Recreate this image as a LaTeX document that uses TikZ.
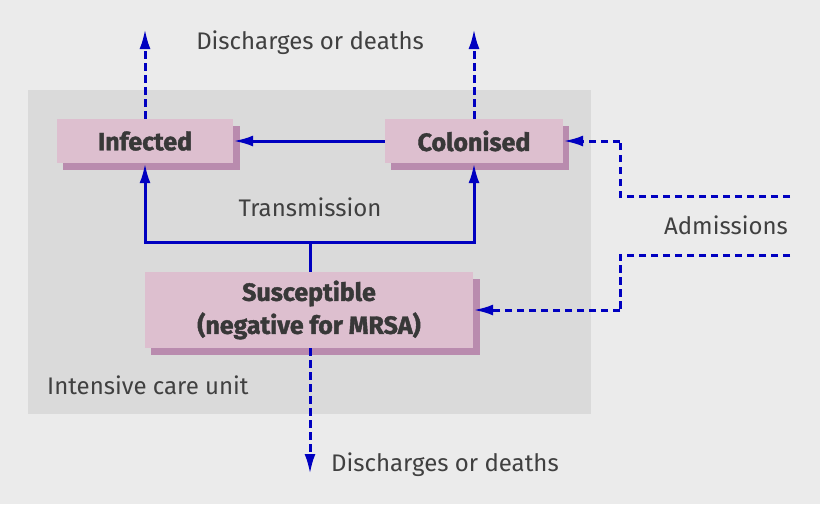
\documentclass[tikz,border=0pt]{standalone}
\usepackage{fontspec}
\setmainfont{Fira Sans}
\newfontfamily\heavyfont{Fira Sans}[BoldFeatures={FakeBold=1.6}]
\usetikzlibrary{arrows.meta}
\definecolor{bgc}{HTML}{EBEBEB}
\definecolor{icuc}{HTML}{DADADA}
\definecolor{boxc}{HTML}{DDBFCF}
\definecolor{shadc}{HTML}{B98BAE}
\definecolor{linec}{HTML}{0000C0}
\definecolor{txtc}{HTML}{383838}
\definecolor{lblc}{HTML}{404040}
\tikzset{
  stbox/.style={rectangle, fill=boxc, text=txtc, font=\fontsize{25}{33}\heavyfont\bfseries, align=center, inner sep=0pt},
  lbl/.style={text=lblc, font=\fontsize{24}{28}\selectfont, inner sep=0pt},
  solidarrow/.style={draw=linec, line width=3pt, -{Latex[length=20pt,width=11pt]}},
  dotarrow/.style={draw=linec, line width=3pt, dash pattern=on 7.5pt off 4.5pt, -{Latex[length=20pt,width=11pt]}},
  dotline/.style={draw=linec, line width=3pt, dash pattern=on 7.5pt off 4.5pt},
}
\begin{document}
\begin{tikzpicture}[x=1pt,y=-1pt]
\fill[bgc] (0,0) rectangle (820,504);
\useasboundingbox (0,0) rectangle (820,504);
\fill[icuc] (28,90) rectangle (591,414);
% shadows
\fill[shadc] (63,126) rectangle (240,170);
\fill[shadc] (391,126) rectangle (569,170);
\fill[shadc] (151,279) rectangle (480,355);
% boxes
\node[stbox, minimum width=176pt, minimum height=44pt] (inf) at (145,141) {Infected};
\node[stbox, minimum width=178pt, minimum height=44pt] (col) at (474,141) {Colonised};
\node[stbox, minimum width=328pt, minimum height=76pt] (sus) at (309,310) {Susceptible\\(negative for MRSA)};
% labels
\node[lbl] (dtop) at (310,43) {Discharges or deaths};
\node[lbl, anchor=west] (dbot) at (331,465) {Discharges or deaths};
\node[lbl] (tr) at (310,207) {Transmission};
\node[lbl, anchor=west] (icu) at (47,385) {Intensive care unit};
\node[lbl, anchor=east] (adm) at (788,225) {Admissions};
% coordinates
\coordinate (ttop1) at (145,29);
\coordinate (ttop2) at (474,29);
\coordinate (tbot) at (310,474);
\coordinate (junc) at (310,242);
\coordinate (a1s) at (790,196);
\coordinate (a1c) at (620,196);
\coordinate (a2s) at (790,255);
\coordinate (a2c) at (620,255);
% connectors
\draw[dotarrow] (inf.north) -- (ttop1);
\draw[dotarrow] (col.north) -- (ttop2);
\draw[dotarrow] (sus.south -| tbot) -- (tbot);
\draw[solidarrow] (col.west) -- (inf.east);
\draw[draw=linec, line width=3pt] (sus.north -| junc) -- (junc);
\draw[solidarrow] (junc) -| (inf.south);
\draw[solidarrow] (junc) -| (col.south);
\draw[dotline] (a1s) -- (a1c) -- (a1c |- col.east);
\draw[dotarrow] (a1c |- col.east) -- (col.east);
\draw[dotline] (a2s) -- (a2c) -- (a2c |- sus.east);
\draw[dotarrow] (a2c |- sus.east) -- (sus.east);
\end{tikzpicture}
\end{document}
